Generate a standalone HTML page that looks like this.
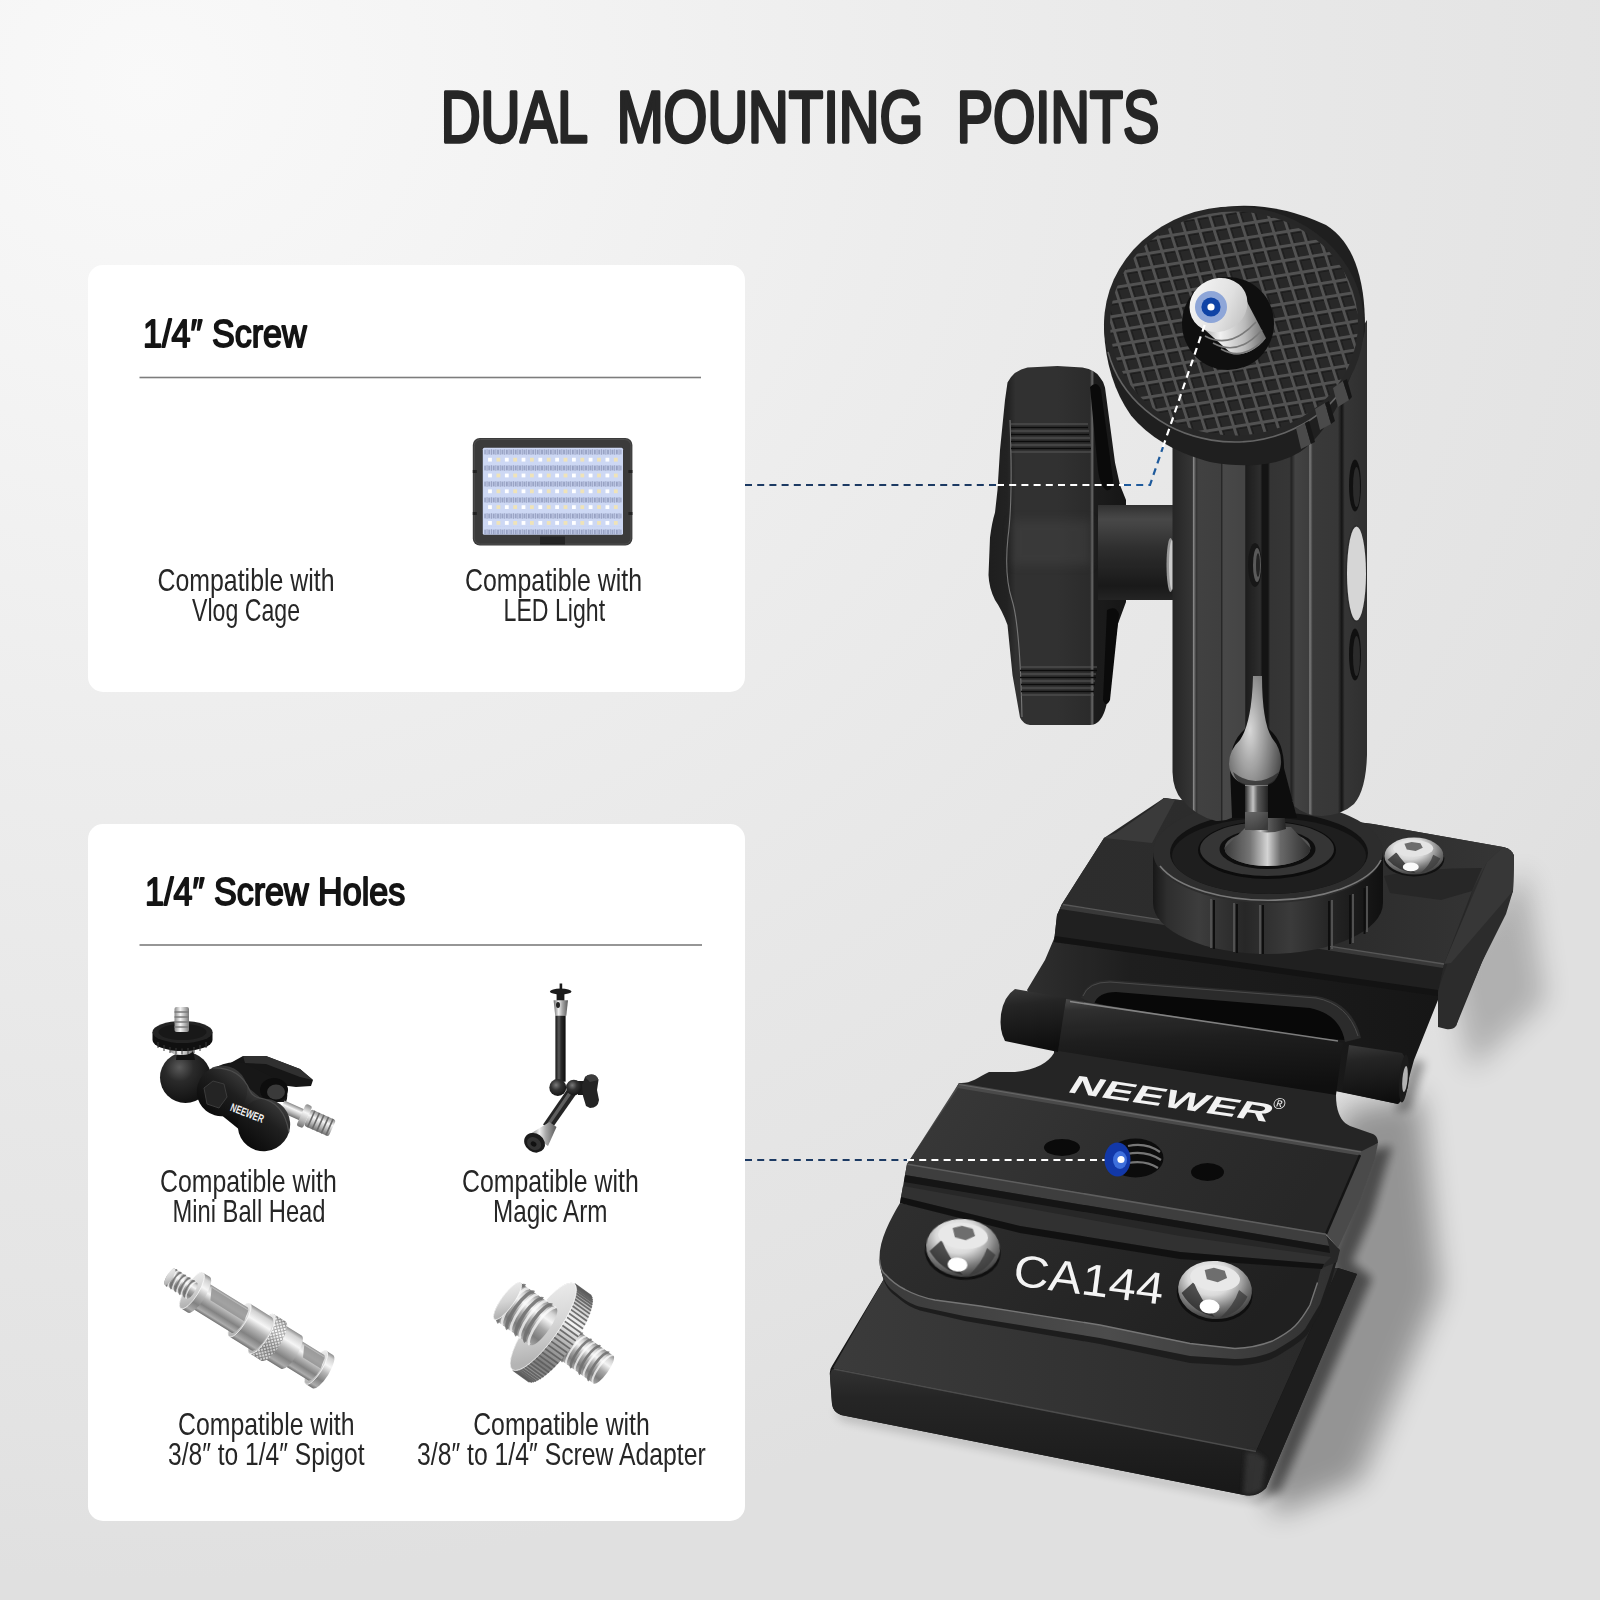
<!DOCTYPE html>
<html lang="en"><head><meta charset="utf-8"><title>Dual Mounting Points</title>
<style>
html,body{margin:0;padding:0;background:#e9e9e9;}
body{width:1600px;height:1600px;overflow:hidden;position:relative;font-family:"Liberation Sans",sans-serif;}
svg{position:absolute;left:0;top:0;display:block}
text{font-family:"Liberation Sans",sans-serif}
</style></head><body>
<svg width="1600" height="1600" viewBox="0 0 1600 1600">
<!-- bg.svg -->
<defs>
<radialGradient id="bgR" cx="150" cy="80" r="1500" gradientUnits="userSpaceOnUse" gradientTransform="translate(150,80) scale(1.12,1) translate(-150,-80)">
<stop offset="0" stop-color="#f9f9f9"/><stop offset="0.2" stop-color="#f4f4f4"/><stop offset="0.45" stop-color="#ededed"/><stop offset="0.7" stop-color="#e7e7e7"/><stop offset="0.9" stop-color="#e3e3e3"/><stop offset="1" stop-color="#e0e0e0"/>
</radialGradient>
</defs>
<rect width="1600" height="1600" fill="url(#bgR)"/>

<!-- cards.svg -->
<rect x="88" y="265" width="657" height="427" rx="15" fill="#ffffff"/>
<rect x="88" y="824" width="657" height="697" rx="15" fill="#ffffff"/>
<rect x="139.5" y="376.7" width="561.5" height="1.6" fill="#7d7d7d"/>
<rect x="139.5" y="944.2" width="562.5" height="1.6" fill="#7d7d7d"/>

<!-- led.svg -->
<g id="led">
<rect x="472.8" y="438" width="159.6" height="107.6" rx="7" fill="#3b3b3b"/>
<rect x="474.3" y="439.5" width="156.6" height="104.6" rx="6" fill="none" stroke="#4d4d4d" stroke-width="1"/>
<rect x="482.8" y="447.8" width="140.2" height="87.0" rx="1.5" fill="#cdd8f4"/>
<defs><pattern id="ledTick" width="4.4" height="8" patternUnits="userSpaceOnUse"><rect x="0.3" y="1.6" width="1.1" height="4.8" fill="#7a84a8"/><rect x="2.4" y="1.2" width="1.3" height="5.6" fill="#9aa3c4"/></pattern></defs>
<rect x="484.3" y="447.80" width="137.2" height="7.91" fill="url(#ledTick)"/>
<rect x="488.1" y="457.76" width="3.8" height="3.8" fill="#ffffff"/>
<rect x="496.5" y="457.76" width="3.8" height="3.8" fill="#efe3b8"/>
<rect x="504.9" y="457.76" width="3.8" height="3.8" fill="#ffffff"/>
<rect x="513.3" y="457.76" width="3.8" height="3.8" fill="#efe3b8"/>
<rect x="521.6" y="457.76" width="3.8" height="3.8" fill="#ffffff"/>
<rect x="530.0" y="457.76" width="3.8" height="3.8" fill="#efe3b8"/>
<rect x="538.4" y="457.76" width="3.8" height="3.8" fill="#ffffff"/>
<rect x="546.8" y="457.76" width="3.8" height="3.8" fill="#efe3b8"/>
<rect x="555.2" y="457.76" width="3.8" height="3.8" fill="#ffffff"/>
<rect x="563.6" y="457.76" width="3.8" height="3.8" fill="#efe3b8"/>
<rect x="572.0" y="457.76" width="3.8" height="3.8" fill="#ffffff"/>
<rect x="580.4" y="457.76" width="3.8" height="3.8" fill="#efe3b8"/>
<rect x="588.7" y="457.76" width="3.8" height="3.8" fill="#ffffff"/>
<rect x="597.1" y="457.76" width="3.8" height="3.8" fill="#efe3b8"/>
<rect x="605.5" y="457.76" width="3.8" height="3.8" fill="#ffffff"/>
<rect x="613.9" y="457.76" width="3.8" height="3.8" fill="#efe3b8"/>
<rect x="484.3" y="463.62" width="137.2" height="7.91" fill="url(#ledTick)"/>
<rect x="488.1" y="473.58" width="3.8" height="3.8" fill="#ffffff"/>
<rect x="496.5" y="473.58" width="3.8" height="3.8" fill="#efe3b8"/>
<rect x="504.9" y="473.58" width="3.8" height="3.8" fill="#ffffff"/>
<rect x="513.3" y="473.58" width="3.8" height="3.8" fill="#efe3b8"/>
<rect x="521.6" y="473.58" width="3.8" height="3.8" fill="#ffffff"/>
<rect x="530.0" y="473.58" width="3.8" height="3.8" fill="#efe3b8"/>
<rect x="538.4" y="473.58" width="3.8" height="3.8" fill="#ffffff"/>
<rect x="546.8" y="473.58" width="3.8" height="3.8" fill="#efe3b8"/>
<rect x="555.2" y="473.58" width="3.8" height="3.8" fill="#ffffff"/>
<rect x="563.6" y="473.58" width="3.8" height="3.8" fill="#efe3b8"/>
<rect x="572.0" y="473.58" width="3.8" height="3.8" fill="#ffffff"/>
<rect x="580.4" y="473.58" width="3.8" height="3.8" fill="#efe3b8"/>
<rect x="588.7" y="473.58" width="3.8" height="3.8" fill="#ffffff"/>
<rect x="597.1" y="473.58" width="3.8" height="3.8" fill="#efe3b8"/>
<rect x="605.5" y="473.58" width="3.8" height="3.8" fill="#ffffff"/>
<rect x="613.9" y="473.58" width="3.8" height="3.8" fill="#efe3b8"/>
<rect x="484.3" y="479.44" width="137.2" height="7.91" fill="url(#ledTick)"/>
<rect x="488.1" y="489.40" width="3.8" height="3.8" fill="#ffffff"/>
<rect x="496.5" y="489.40" width="3.8" height="3.8" fill="#efe3b8"/>
<rect x="504.9" y="489.40" width="3.8" height="3.8" fill="#ffffff"/>
<rect x="513.3" y="489.40" width="3.8" height="3.8" fill="#efe3b8"/>
<rect x="521.6" y="489.40" width="3.8" height="3.8" fill="#ffffff"/>
<rect x="530.0" y="489.40" width="3.8" height="3.8" fill="#efe3b8"/>
<rect x="538.4" y="489.40" width="3.8" height="3.8" fill="#ffffff"/>
<rect x="546.8" y="489.40" width="3.8" height="3.8" fill="#efe3b8"/>
<rect x="555.2" y="489.40" width="3.8" height="3.8" fill="#ffffff"/>
<rect x="563.6" y="489.40" width="3.8" height="3.8" fill="#efe3b8"/>
<rect x="572.0" y="489.40" width="3.8" height="3.8" fill="#ffffff"/>
<rect x="580.4" y="489.40" width="3.8" height="3.8" fill="#efe3b8"/>
<rect x="588.7" y="489.40" width="3.8" height="3.8" fill="#ffffff"/>
<rect x="597.1" y="489.40" width="3.8" height="3.8" fill="#efe3b8"/>
<rect x="605.5" y="489.40" width="3.8" height="3.8" fill="#ffffff"/>
<rect x="613.9" y="489.40" width="3.8" height="3.8" fill="#efe3b8"/>
<rect x="484.3" y="495.25" width="137.2" height="7.91" fill="url(#ledTick)"/>
<rect x="488.1" y="505.22" width="3.8" height="3.8" fill="#ffffff"/>
<rect x="496.5" y="505.22" width="3.8" height="3.8" fill="#efe3b8"/>
<rect x="504.9" y="505.22" width="3.8" height="3.8" fill="#ffffff"/>
<rect x="513.3" y="505.22" width="3.8" height="3.8" fill="#efe3b8"/>
<rect x="521.6" y="505.22" width="3.8" height="3.8" fill="#ffffff"/>
<rect x="530.0" y="505.22" width="3.8" height="3.8" fill="#efe3b8"/>
<rect x="538.4" y="505.22" width="3.8" height="3.8" fill="#ffffff"/>
<rect x="546.8" y="505.22" width="3.8" height="3.8" fill="#efe3b8"/>
<rect x="555.2" y="505.22" width="3.8" height="3.8" fill="#ffffff"/>
<rect x="563.6" y="505.22" width="3.8" height="3.8" fill="#efe3b8"/>
<rect x="572.0" y="505.22" width="3.8" height="3.8" fill="#ffffff"/>
<rect x="580.4" y="505.22" width="3.8" height="3.8" fill="#efe3b8"/>
<rect x="588.7" y="505.22" width="3.8" height="3.8" fill="#ffffff"/>
<rect x="597.1" y="505.22" width="3.8" height="3.8" fill="#efe3b8"/>
<rect x="605.5" y="505.22" width="3.8" height="3.8" fill="#ffffff"/>
<rect x="613.9" y="505.22" width="3.8" height="3.8" fill="#efe3b8"/>
<rect x="484.3" y="511.07" width="137.2" height="7.91" fill="url(#ledTick)"/>
<rect x="488.1" y="521.04" width="3.8" height="3.8" fill="#ffffff"/>
<rect x="496.5" y="521.04" width="3.8" height="3.8" fill="#efe3b8"/>
<rect x="504.9" y="521.04" width="3.8" height="3.8" fill="#ffffff"/>
<rect x="513.3" y="521.04" width="3.8" height="3.8" fill="#efe3b8"/>
<rect x="521.6" y="521.04" width="3.8" height="3.8" fill="#ffffff"/>
<rect x="530.0" y="521.04" width="3.8" height="3.8" fill="#efe3b8"/>
<rect x="538.4" y="521.04" width="3.8" height="3.8" fill="#ffffff"/>
<rect x="546.8" y="521.04" width="3.8" height="3.8" fill="#efe3b8"/>
<rect x="555.2" y="521.04" width="3.8" height="3.8" fill="#ffffff"/>
<rect x="563.6" y="521.04" width="3.8" height="3.8" fill="#efe3b8"/>
<rect x="572.0" y="521.04" width="3.8" height="3.8" fill="#ffffff"/>
<rect x="580.4" y="521.04" width="3.8" height="3.8" fill="#efe3b8"/>
<rect x="588.7" y="521.04" width="3.8" height="3.8" fill="#ffffff"/>
<rect x="597.1" y="521.04" width="3.8" height="3.8" fill="#efe3b8"/>
<rect x="605.5" y="521.04" width="3.8" height="3.8" fill="#ffffff"/>
<rect x="613.9" y="521.04" width="3.8" height="3.8" fill="#efe3b8"/>
<rect x="484.3" y="526.89" width="137.2" height="7.91" fill="url(#ledTick)"/>
<rect x="540" y="536.5" width="25" height="8" fill="#242424"/>
<rect x="472.8" y="470" width="4" height="3" fill="#222"/><rect x="628.4" y="470" width="4" height="3" fill="#222"/><rect x="472.8" y="512" width="4" height="3" fill="#222"/><rect x="628.4" y="512" width="4" height="3" fill="#222"/>
</g>
<!-- ballhead.svg -->
<defs>
<radialGradient id="bhBall" cx="0.38" cy="0.3" r="0.8"><stop offset="0" stop-color="#5a5a5a"/><stop offset="0.35" stop-color="#2a2a2a"/><stop offset="1" stop-color="#0c0c0c"/></radialGradient>
<linearGradient id="bhBody" x1="0" y1="0" x2="0" y2="1"><stop offset="0" stop-color="#3a3a3a"/><stop offset="0.4" stop-color="#1f1f1f"/><stop offset="1" stop-color="#0b0b0b"/></linearGradient>
<linearGradient id="bhSilver" x1="0" y1="0" x2="1" y2="0"><stop offset="0" stop-color="#8a8a8a"/><stop offset="0.4" stop-color="#f4f4f4"/><stop offset="0.7" stop-color="#b8b8b8"/><stop offset="1" stop-color="#7a7a7a"/></linearGradient>
<linearGradient id="bhSilverV" x1="0" y1="0" x2="0" y2="1"><stop offset="0" stop-color="#8a8a8a"/><stop offset="0.35" stop-color="#f6f6f6"/><stop offset="0.7" stop-color="#b4b4b4"/><stop offset="1" stop-color="#707070"/></linearGradient>
</defs>
<g id="ballhead">
<!-- wing nut -->
<path d="M225 1066 L243 1056 L266 1056 L300 1069 L313 1080 L311 1086 L296 1087 L272 1084 L250 1086 L231 1078Z" fill="#161616"/>
<path d="M243 1056 L266 1056 L300 1069 L313 1080 L300 1077 L266 1064 L245 1063Z" fill="#303030"/>
<!-- upper clamp half -->
<path d="M212 1070 Q225 1060 244 1063 L282 1082 Q290 1092 286 1102 L258 1102 L235 1088 L206 1088Z" fill="#171717"/>
<!-- clamp loop -->
<ellipse cx="274" cy="1090" rx="14" ry="12" fill="#0d0d0d"/><ellipse cx="276" cy="1092" rx="9" ry="7.5" fill="#3a3a3a"/>
<!-- bottom stud -->
<g transform="translate(282,1106) rotate(24)">
<rect x="0" y="-6" width="24" height="12" fill="url(#bhSilverV)"/>
<rect x="21" y="-12" width="7" height="24" rx="2.5" fill="url(#bhSilverV)"/>
<rect x="28" y="-9" width="27" height="18" rx="2.5" fill="url(#bhSilverV)"/>
<path d="M32 -9 V9 M37 -9 V9 M42 -9 V9 M47 -9 V9 M52 -9 V9" stroke="#6a6a6a" stroke-width="1.6"/>
</g>
<!-- ball -->
<circle cx="185.5" cy="1077.5" r="25.5" fill="url(#bhBall)"/>
<!-- clamp body (peanut) -->
<g transform="translate(243,1108) rotate(39)">
<rect x="-30" y="-19" width="60" height="38" fill="url(#bhBody)"/>
<ellipse cx="-27" cy="0" rx="25" ry="25.5" fill="url(#bhBody)"/>
<ellipse cx="27" cy="0" rx="26" ry="26.5" fill="url(#bhBody)"/>
<path d="M-49 -12 Q-28 -30 -6 -18 Q0 -15 6 -18 Q28 -31 51 -10" stroke="#4c4c4c" stroke-width="1.2" fill="none"/>
</g>
<!-- hex knob -->
<path d="M204 1088 L213 1081 L224 1084 L227 1097 L219 1108 L207 1104Z" fill="#242424" stroke="#3c3c3c" stroke-width="1"/>
<!-- neck + washer -->
<path d="M178 1045 L192 1045 L195 1060 L176 1060Z" fill="#111"/>
<ellipse cx="181.5" cy="1050.5" rx="11.5" ry="4.5" fill="url(#bhSilver)"/>
<!-- disc -->
<path d="M152.5 1032 L152.5 1040 A30 11 0 0 0 212.5 1040 L212.5 1032Z" fill="#101010"/>
<ellipse cx="182.5" cy="1032" rx="30" ry="11" fill="#232323"/>
<ellipse cx="182.5" cy="1032" rx="24" ry="8" fill="#181818"/>
<g stroke="#3a3a3a" stroke-width="1"><path d="M158 1042 V1048 M164 1045 V1051 M170 1047 V1053 M176 1048 V1054 M182 1048.5 V1054.5 M188 1048 V1054 M194 1047 V1053 M200 1045 V1051 M206 1042 V1048"/></g>
<!-- top screw -->
<rect x="174.5" y="1007" width="14.5" height="25" rx="2" fill="url(#bhSilver)"/>
<path d="M174.5 1012 H189 M174.5 1017 H189 M174.5 1022 H189 M174.5 1027 H189" stroke="#7a7a7a" stroke-width="1.5"/>
<text transform="translate(229.5,1110.5) rotate(21)" font-size="11.5" font-weight="700" fill="#f0f0f0" textLength="35" lengthAdjust="spacingAndGlyphs">NEEWER</text>
</g>

<!-- magicarm.svg -->
<defs>
<linearGradient id="maRod" x1="0" y1="0" x2="1" y2="0"><stop offset="0" stop-color="#151515"/><stop offset="0.35" stop-color="#5a5a5a"/><stop offset="0.55" stop-color="#2a2a2a"/><stop offset="1" stop-color="#0c0c0c"/></linearGradient>
<linearGradient id="maSilver" x1="0" y1="0" x2="1" y2="0"><stop offset="0" stop-color="#6a6a6a"/><stop offset="0.35" stop-color="#f0f0f0"/><stop offset="0.6" stop-color="#a8a8a8"/><stop offset="1" stop-color="#5a5a5a"/></linearGradient>
<radialGradient id="maBall" cx="0.4" cy="0.35" r="0.75"><stop offset="0" stop-color="#7a7a7a"/><stop offset="0.4" stop-color="#333"/><stop offset="1" stop-color="#0c0c0c"/></radialGradient>
</defs>
<g id="magicarm">
<rect x="559.6" y="983.5" width="2.6" height="7" fill="#1a1a1a"/>
<ellipse cx="560.7" cy="991.5" rx="10.8" ry="3" fill="#1c1c1c"/>
<rect x="556.6" y="993" width="7.8" height="8.5" fill="#1a1a1a"/>
<path d="M553.6 1000.3 L568 1000.3 L566.3 1015.7 L555.2 1015.7Z" fill="url(#maSilver)"/>
<ellipse cx="558" cy="1005" rx="2" ry="3" fill="#222"/>
<rect x="555.4" y="1015.7" width="10.2" height="66" fill="url(#maRod)"/>
<!-- lower rod -->
<g transform="translate(571.5,1092) rotate(125)">
<rect x="0" y="-4.8" width="46" height="9.6" fill="url(#maRodH)"/>
</g>
<path d="M567.5 1089 L575.8 1094.8 L551 1130 L543 1124.5Z" fill="#242424"/>
<path d="M569.6 1090.4 L572.4 1092.4 L548 1127.8 L545.4 1126Z" fill="#5e5e5e"/>
<path d="M549.5 1122 L556.5 1127 L548 1146 L530 1134Z" fill="url(#maSilver)"/>
<ellipse cx="534.6" cy="1142.8" rx="11" ry="9.2" transform="rotate(35 534.6 1142.8)" fill="#1a1a1a"/>
<ellipse cx="534" cy="1143.6" rx="7.5" ry="6" transform="rotate(35 534 1143.6)" fill="#333"/>
<ellipse cx="533.6" cy="1144" rx="3" ry="2.4" transform="rotate(35 533.6 1144)" fill="#111"/>
<!-- knob -->
<rect x="578" y="1081" width="8" height="14" fill="#1c1c1c"/>
<path d="M588 1075 Q596 1073 598.5 1080 L597 1090 L599 1100 Q598 1108 590 1108 L586 1106 L583 1096 L582 1085 L585 1077Z" fill="#242424"/>
<path d="M588 1075 Q596 1073 598.5 1080 L590 1082 L585 1077Z" fill="#3c3c3c"/>
<!-- balls -->
<circle cx="573.8" cy="1087.6" r="7.8" fill="url(#maBall)"/>
<circle cx="557.8" cy="1087.6" r="8.5" fill="url(#maBall)"/>
</g>

<!-- spigot.svg -->
<defs>
<linearGradient id="silverV" x1="0" y1="0" x2="0" y2="1"><stop offset="0" stop-color="#8e8e8e"/><stop offset="0.1" stop-color="#d2d2d2"/><stop offset="0.3" stop-color="#f6f6f6"/><stop offset="0.5" stop-color="#b4b4b4"/><stop offset="0.72" stop-color="#828282"/><stop offset="0.9" stop-color="#acacac"/><stop offset="1" stop-color="#707070"/></linearGradient>
<linearGradient id="silverV2" x1="0" y1="0" x2="0" y2="1"><stop offset="0" stop-color="#8c8c8c"/><stop offset="0.15" stop-color="#d4d4d4"/><stop offset="0.32" stop-color="#f4f4f4"/><stop offset="0.55" stop-color="#a8a8a8"/><stop offset="0.8" stop-color="#7c7c7c"/><stop offset="1" stop-color="#a8a8a8"/></linearGradient>
<linearGradient id="silverFace" x1="0" y1="0" x2="0.3" y2="1"><stop offset="0" stop-color="#efefef"/><stop offset="0.6" stop-color="#d4d4d4"/><stop offset="1" stop-color="#b4b4b4"/></linearGradient>
<pattern id="knurlS" width="3" height="3" patternUnits="userSpaceOnUse" patternTransform="rotate(45)"><rect width="3" height="3" fill="#fff"/><path d="M0 0.5H3M0.5 0V3" stroke="#777" stroke-width="1"/></pattern>
</defs><g id="spigot" transform="translate(169.8,1276.8) rotate(31.8)">
<path d="M172 -19.5 L180 -19.5 A6.24 19.5 0 0 1 180 19.5 L172 19.5 A6.24 19.5 0 0 1 172 -19.5Z" fill="url(#silverV)"/>
<ellipse cx="172" cy="0" rx="6.24" ry="19.5" fill="url(#silverFace)"/>
<ellipse cx="172" cy="0" rx="6.24" ry="19.5" fill="none" stroke="#ffffff" stroke-width="0.8" opacity="0.8"/>
<path d="M143 -15 L172 -15 A4.80 15 0 0 1 172 15 L143 15 A4.80 15 0 0 1 143 -15Z" fill="url(#silverV)"/>
<path d="M150.32 -12.75 L174.40 -12.75 L176.56 -1.50 L155.80 -1.50Z" fill="#8d8d8d" opacity="0.8"/>
<ellipse cx="143" cy="0" rx="4.80" ry="15" fill="url(#silverFace)"/>
<path d="M122 -19.5 L143 -19.5 A6.24 19.5 0 0 1 143 19.5 L122 19.5 A6.24 19.5 0 0 1 122 -19.5Z" fill="url(#silverV)"/>
<ellipse cx="122" cy="0" rx="6.24" ry="19.5" fill="url(#silverFace)"/>
<path d="M108 -23 L122 -23 A7.36 23 0 0 1 122 23 L108 23 A7.36 23 0 0 1 108 -23Z" fill="url(#silverV)"/>
<path d="M108 -23 L122 -23 A7.36 23 0 0 1 122 23 L108 23 A7.36 23 0 0 1 108 -23Z" fill="url(#knurlS)" opacity="0.55"/>
<ellipse cx="108" cy="0" rx="7.36" ry="23" fill="url(#silverFace)"/>
<ellipse cx="108" cy="0" rx="7.36" ry="23" fill="none" stroke="#ffffff" stroke-width="0.8" opacity="0.8"/>
<path d="M82 -19.5 L108 -19.5 A6.24 19.5 0 0 1 108 19.5 L82 19.5 A6.24 19.5 0 0 1 82 -19.5Z" fill="url(#silverV)"/>
<ellipse cx="82" cy="0" rx="6.24" ry="19.5" fill="url(#silverFace)"/>
<ellipse cx="82" cy="0" rx="6.24" ry="19.5" fill="none" stroke="#ffffff" stroke-width="0.8" opacity="0.8"/>
<path d="M34 -15 L82 -15 A4.80 15 0 0 1 82 15 L34 15 A4.80 15 0 0 1 34 -15Z" fill="url(#silverV)"/>
<path d="M41.32 -12.75 L84.40 -12.75 L86.56 -1.50 L46.80 -1.50Z" fill="#8d8d8d" opacity="0.8"/>
<ellipse cx="34" cy="0" rx="4.80" ry="15" fill="url(#silverFace)"/>
<path d="M26 -21 L34 -21 A6.72 21 0 0 1 34 21 L26 21 A6.72 21 0 0 1 26 -21Z" fill="url(#silverV)"/>
<ellipse cx="26" cy="0" rx="6.72" ry="21" fill="url(#silverFace)"/>
<ellipse cx="26" cy="0" rx="6.72" ry="21" fill="none" stroke="#ffffff" stroke-width="0.8" opacity="0.8"/>
<path d="M0 -9.5 L26 -9.5 A3.04 9.5 0 0 1 26 9.5 L0 9.5 A3.04 9.5 0 0 1 0 -9.5Z" fill="url(#silverV2)"/>
<path d="M23.40 -9.5 A3.04 9.5 0 0 0 23.40 9.5" fill="none" stroke="#6f6f6f" stroke-width="1.6" opacity="0.85"/>
<path d="M25.74 -9.5 A3.04 9.5 0 0 0 25.74 9.5" fill="none" stroke="#ffffff" stroke-width="1.2800000000000002" opacity="0.7"/>
<path d="M18.20 -9.5 A3.04 9.5 0 0 0 18.20 9.5" fill="none" stroke="#6f6f6f" stroke-width="1.6" opacity="0.85"/>
<path d="M20.54 -9.5 A3.04 9.5 0 0 0 20.54 9.5" fill="none" stroke="#ffffff" stroke-width="1.2800000000000002" opacity="0.7"/>
<path d="M13.00 -9.5 A3.04 9.5 0 0 0 13.00 9.5" fill="none" stroke="#6f6f6f" stroke-width="1.6" opacity="0.85"/>
<path d="M15.34 -9.5 A3.04 9.5 0 0 0 15.34 9.5" fill="none" stroke="#ffffff" stroke-width="1.2800000000000002" opacity="0.7"/>
<path d="M7.80 -9.5 A3.04 9.5 0 0 0 7.80 9.5" fill="none" stroke="#6f6f6f" stroke-width="1.6" opacity="0.85"/>
<path d="M10.14 -9.5 A3.04 9.5 0 0 0 10.14 9.5" fill="none" stroke="#ffffff" stroke-width="1.2800000000000002" opacity="0.7"/>
<path d="M2.60 -9.5 A3.04 9.5 0 0 0 2.60 9.5" fill="none" stroke="#6f6f6f" stroke-width="1.6" opacity="0.85"/>
<path d="M4.94 -9.5 A3.04 9.5 0 0 0 4.94 9.5" fill="none" stroke="#ffffff" stroke-width="1.2800000000000002" opacity="0.7"/>
<ellipse cx="0" cy="0" rx="3.04" ry="9.5" fill="url(#silverFace)"/>
</g>
<!-- adapter.svg -->
<g id="adapter" transform="translate(507.5,1301) rotate(35.6)">
<path d="M64 -17 L118 -17 A4.76 17 0 0 1 118 17 L64 17 A4.76 17 0 0 1 64 -17Z" fill="url(#silverV2)"/>
<path d="M112.60 -17 A4.76 17 0 0 0 112.60 17" fill="none" stroke="#6f6f6f" stroke-width="2.6" opacity="0.85"/>
<path d="M117.46 -17 A4.76 17 0 0 0 117.46 17" fill="none" stroke="#ffffff" stroke-width="2.08" opacity="0.7"/>
<path d="M101.80 -17 A4.76 17 0 0 0 101.80 17" fill="none" stroke="#6f6f6f" stroke-width="2.6" opacity="0.85"/>
<path d="M106.66 -17 A4.76 17 0 0 0 106.66 17" fill="none" stroke="#ffffff" stroke-width="2.08" opacity="0.7"/>
<path d="M91.00 -17 A4.76 17 0 0 0 91.00 17" fill="none" stroke="#6f6f6f" stroke-width="2.6" opacity="0.85"/>
<path d="M95.86 -17 A4.76 17 0 0 0 95.86 17" fill="none" stroke="#ffffff" stroke-width="2.08" opacity="0.7"/>
<path d="M80.20 -17 A4.76 17 0 0 0 80.20 17" fill="none" stroke="#6f6f6f" stroke-width="2.6" opacity="0.85"/>
<path d="M85.06 -17 A4.76 17 0 0 0 85.06 17" fill="none" stroke="#ffffff" stroke-width="2.08" opacity="0.7"/>
<path d="M69.40 -17 A4.76 17 0 0 0 69.40 17" fill="none" stroke="#6f6f6f" stroke-width="2.6" opacity="0.85"/>
<path d="M74.26 -17 A4.76 17 0 0 0 74.26 17" fill="none" stroke="#ffffff" stroke-width="2.08" opacity="0.7"/>
<ellipse cx="64" cy="0" rx="4.76" ry="17" fill="url(#silverFace)"/>
<path d="M44 -53 L64 -53 A14.84 53 0 0 1 64 53 L44 53 A14.84 53 0 0 1 44 -53Z" fill="url(#silverV2)"/>
<path d="M44.69 -52.94 L64.69 -52.94" stroke="#5c5c5c" stroke-width="1.8" opacity="0.85"/>
<path d="M46.05 -52.49 L66.05 -52.49" stroke="#5c5c5c" stroke-width="1.8" opacity="0.85"/>
<path d="M47.40 -51.59 L67.40 -51.59" stroke="#5c5c5c" stroke-width="1.8" opacity="0.85"/>
<path d="M48.72 -50.25 L68.72 -50.25" stroke="#5c5c5c" stroke-width="1.8" opacity="0.85"/>
<path d="M49.99 -48.48 L69.99 -48.48" stroke="#5c5c5c" stroke-width="1.8" opacity="0.85"/>
<path d="M51.22 -46.30 L71.22 -46.30" stroke="#5c5c5c" stroke-width="1.8" opacity="0.85"/>
<path d="M52.39 -43.72 L72.39 -43.72" stroke="#5c5c5c" stroke-width="1.8" opacity="0.85"/>
<path d="M53.48 -40.77 L73.48 -40.77" stroke="#5c5c5c" stroke-width="1.8" opacity="0.85"/>
<path d="M54.49 -37.48 L74.49 -37.48" stroke="#5c5c5c" stroke-width="1.8" opacity="0.85"/>
<path d="M55.42 -33.86 L75.42 -33.86" stroke="#5c5c5c" stroke-width="1.8" opacity="0.85"/>
<path d="M56.24 -29.95 L76.24 -29.95" stroke="#5c5c5c" stroke-width="1.8" opacity="0.85"/>
<path d="M56.96 -25.79 L76.96 -25.79" stroke="#5c5c5c" stroke-width="1.8" opacity="0.85"/>
<path d="M57.58 -21.41 L77.58 -21.41" stroke="#5c5c5c" stroke-width="1.8" opacity="0.85"/>
<path d="M58.07 -16.84 L78.07 -16.84" stroke="#5c5c5c" stroke-width="1.8" opacity="0.85"/>
<path d="M58.45 -12.13 L78.45 -12.13" stroke="#5c5c5c" stroke-width="1.8" opacity="0.85"/>
<path d="M58.70 -7.32 L78.70 -7.32" stroke="#5c5c5c" stroke-width="1.8" opacity="0.85"/>
<path d="M58.82 -2.45 L78.82 -2.45" stroke="#5c5c5c" stroke-width="1.8" opacity="0.85"/>
<path d="M58.82 2.45 L78.82 2.45" stroke="#5c5c5c" stroke-width="1.8" opacity="0.85"/>
<path d="M58.70 7.32 L78.70 7.32" stroke="#5c5c5c" stroke-width="1.8" opacity="0.85"/>
<path d="M58.45 12.13 L78.45 12.13" stroke="#5c5c5c" stroke-width="1.8" opacity="0.85"/>
<path d="M58.07 16.84 L78.07 16.84" stroke="#5c5c5c" stroke-width="1.8" opacity="0.85"/>
<path d="M57.58 21.41 L77.58 21.41" stroke="#5c5c5c" stroke-width="1.8" opacity="0.85"/>
<path d="M56.96 25.79 L76.96 25.79" stroke="#5c5c5c" stroke-width="1.8" opacity="0.85"/>
<path d="M56.24 29.95 L76.24 29.95" stroke="#5c5c5c" stroke-width="1.8" opacity="0.85"/>
<path d="M55.42 33.86 L75.42 33.86" stroke="#5c5c5c" stroke-width="1.8" opacity="0.85"/>
<path d="M54.49 37.48 L74.49 37.48" stroke="#5c5c5c" stroke-width="1.8" opacity="0.85"/>
<path d="M53.48 40.77 L73.48 40.77" stroke="#5c5c5c" stroke-width="1.8" opacity="0.85"/>
<path d="M52.39 43.72 L72.39 43.72" stroke="#5c5c5c" stroke-width="1.8" opacity="0.85"/>
<path d="M51.22 46.30 L71.22 46.30" stroke="#5c5c5c" stroke-width="1.8" opacity="0.85"/>
<path d="M49.99 48.48 L69.99 48.48" stroke="#5c5c5c" stroke-width="1.8" opacity="0.85"/>
<path d="M48.72 50.25 L68.72 50.25" stroke="#5c5c5c" stroke-width="1.8" opacity="0.85"/>
<path d="M47.40 51.59 L67.40 51.59" stroke="#5c5c5c" stroke-width="1.8" opacity="0.85"/>
<path d="M46.05 52.49 L66.05 52.49" stroke="#5c5c5c" stroke-width="1.8" opacity="0.85"/>
<path d="M44.69 52.94 L64.69 52.94" stroke="#5c5c5c" stroke-width="1.8" opacity="0.85"/>
<ellipse cx="44" cy="0" rx="14.84" ry="53" fill="url(#silverFace)"/>
<ellipse cx="44" cy="0" rx="14.84" ry="53" fill="none" stroke="#ffffff" stroke-width="0.8" opacity="0.8"/>
<path d="M0 -22.5 L44 -22.5 A6.30 22.5 0 0 1 44 22.5 L0 22.5 A6.30 22.5 0 0 1 0 -22.5Z" fill="url(#silverV2)"/>
<path d="M38.50 -22.5 A6.30 22.5 0 0 0 38.50 22.5" fill="none" stroke="#6f6f6f" stroke-width="3.4" opacity="0.85"/>
<path d="M43.45 -22.5 A6.30 22.5 0 0 0 43.45 22.5" fill="none" stroke="#ffffff" stroke-width="2.72" opacity="0.7"/>
<path d="M27.50 -22.5 A6.30 22.5 0 0 0 27.50 22.5" fill="none" stroke="#6f6f6f" stroke-width="3.4" opacity="0.85"/>
<path d="M32.45 -22.5 A6.30 22.5 0 0 0 32.45 22.5" fill="none" stroke="#ffffff" stroke-width="2.72" opacity="0.7"/>
<path d="M16.50 -22.5 A6.30 22.5 0 0 0 16.50 22.5" fill="none" stroke="#6f6f6f" stroke-width="3.4" opacity="0.85"/>
<path d="M21.45 -22.5 A6.30 22.5 0 0 0 21.45 22.5" fill="none" stroke="#ffffff" stroke-width="2.72" opacity="0.7"/>
<path d="M5.50 -22.5 A6.30 22.5 0 0 0 5.50 22.5" fill="none" stroke="#6f6f6f" stroke-width="3.4" opacity="0.85"/>
<path d="M10.45 -22.5 A6.30 22.5 0 0 0 10.45 22.5" fill="none" stroke="#ffffff" stroke-width="2.72" opacity="0.7"/>
<ellipse cx="0" cy="0" rx="6.30" ry="22.5" fill="url(#silverFace)"/>
<ellipse cx="0" cy="0" rx="6.30" ry="22.5" fill="none" stroke="#ffffff" stroke-width="0.8" opacity="0.8"/>
</g>
<!-- product.svg -->
<defs>
<filter id="lift" x="0" y="0" width="100%" height="100%" filterUnits="userSpaceOnUse" color-interpolation-filters="sRGB"><feComponentTransfer><feFuncR type="linear" slope="0.97" intercept="0.012"/><feFuncG type="linear" slope="0.97" intercept="0.012"/><feFuncB type="linear" slope="0.97" intercept="0.012"/></feComponentTransfer></filter>
<filter id="blur12" x="-30%" y="-30%" width="160%" height="160%"><feGaussianBlur stdDeviation="14"/></filter>
<filter id="blur5" x="-30%" y="-30%" width="160%" height="160%"><feGaussianBlur stdDeviation="5"/></filter>
<filter id="blur2" x="-30%" y="-30%" width="160%" height="160%"><feGaussianBlur stdDeviation="2"/></filter>
<filter id="blur1" x="-30%" y="-30%" width="160%" height="160%"><feGaussianBlur stdDeviation="1"/></filter>
<linearGradient id="padTop" x1="0" y1="0" x2="1" y2="0"><stop offset="0" stop-color="#3a3a3a"/><stop offset="1" stop-color="#282828"/></linearGradient>
<linearGradient id="padFront" x1="0" y1="0" x2="0" y2="1"><stop offset="0" stop-color="#303030"/><stop offset="0.25" stop-color="#232323"/><stop offset="1" stop-color="#161616"/></linearGradient>
<linearGradient id="deckLow" x1="0" y1="0" x2="1" y2="0.3"><stop offset="0" stop-color="#2e2e2e"/><stop offset="0.5" stop-color="#262626"/><stop offset="1" stop-color="#1e1e1e"/></linearGradient>
<linearGradient id="deckCh" x1="0" y1="0" x2="1" y2="0"><stop offset="0" stop-color="#3a3a3a"/><stop offset="0.5" stop-color="#4c4c4c"/><stop offset="1" stop-color="#303030"/></linearGradient>
<linearGradient id="deckUp" x1="0" y1="0" x2="1" y2="0.2"><stop offset="0" stop-color="#383838"/><stop offset="0.6" stop-color="#2c2c2c"/><stop offset="1" stop-color="#262626"/></linearGradient>
<linearGradient id="wallG" x1="0" y1="0" x2="0" y2="1"><stop offset="0" stop-color="#3c3c3c"/><stop offset="0.2" stop-color="#353535"/><stop offset="0.26" stop-color="#121212"/><stop offset="0.36" stop-color="#1a1a1a"/><stop offset="0.42" stop-color="#2e2e2e"/><stop offset="0.85" stop-color="#2a2a2a"/><stop offset="0.93" stop-color="#0f0f0f"/><stop offset="1" stop-color="#161616"/></linearGradient>
<linearGradient id="rodG" x1="0" y1="0" x2="0.12" y2="1"><stop offset="0" stop-color="#4a4a4a"/><stop offset="0.12" stop-color="#2e2e2e"/><stop offset="0.45" stop-color="#1c1c1c"/><stop offset="1" stop-color="#0d0d0d"/></linearGradient>
<linearGradient id="capG" x1="0" y1="0" x2="0.12" y2="1"><stop offset="0" stop-color="#3a3a3a"/><stop offset="0.3" stop-color="#222"/><stop offset="1" stop-color="#0c0c0c"/></linearGradient>
<linearGradient id="blockTop" x1="0" y1="0" x2="1" y2="0"><stop offset="0" stop-color="#2c2c2c"/><stop offset="0.6" stop-color="#2a2a2a"/><stop offset="1" stop-color="#343434"/></linearGradient>
<linearGradient id="slantG" x1="0" y1="0" x2="1" y2="0"><stop offset="0" stop-color="#2e2e2e"/><stop offset="0.25" stop-color="#1c1c1c"/><stop offset="1" stop-color="#141414"/></linearGradient>
<linearGradient id="colG" x1="1173" y1="0" x2="1367" y2="0" gradientUnits="userSpaceOnUse">
<stop offset="0" stop-color="#252525"/><stop offset="0.1" stop-color="#343434"/><stop offset="0.105" stop-color="#8a8a8a"/><stop offset="0.12" stop-color="#343434"/><stop offset="0.13" stop-color="#404040"/><stop offset="0.245" stop-color="#3e3e3e"/><stop offset="0.25" stop-color="#262626"/><stop offset="0.26" stop-color="#484848"/><stop offset="0.37" stop-color="#444444"/><stop offset="0.375" stop-color="#1a1a1a"/><stop offset="0.45" stop-color="#2d2d2d"/><stop offset="0.46" stop-color="#121212"/><stop offset="0.49" stop-color="#121212"/><stop offset="0.5" stop-color="#333333"/><stop offset="0.6" stop-color="#353535"/><stop offset="0.61" stop-color="#222222"/><stop offset="0.63" stop-color="#424242"/><stop offset="0.7" stop-color="#3c3c3c"/><stop offset="0.705" stop-color="#808080"/><stop offset="0.72" stop-color="#383838"/><stop offset="0.85" stop-color="#363636"/><stop offset="0.87" stop-color="#121212"/><stop offset="0.885" stop-color="#343434"/><stop offset="1" stop-color="#2e2e2e"/>
</linearGradient>
<linearGradient id="ringSide" x1="0" y1="0" x2="1" y2="0"><stop offset="0" stop-color="#151515"/><stop offset="0.06" stop-color="#2d2d2d"/><stop offset="0.2" stop-color="#3c3c3c"/><stop offset="0.4" stop-color="#262626"/><stop offset="0.6" stop-color="#3a3a3a"/><stop offset="0.8" stop-color="#202020"/><stop offset="1" stop-color="#0e0e0e"/></linearGradient>
<linearGradient id="knobG" x1="988" y1="0" x2="1126" y2="0" gradientUnits="userSpaceOnUse"><stop offset="0" stop-color="#1c1c1c"/><stop offset="0.14" stop-color="#202020"/><stop offset="0.2" stop-color="#303030"/><stop offset="0.5" stop-color="#303030"/><stop offset="0.74" stop-color="#2a2a2a"/><stop offset="0.755" stop-color="#6a6a6a"/><stop offset="0.77" stop-color="#1a1a1a"/><stop offset="1" stop-color="#141414"/></linearGradient>
<linearGradient id="shaftG" x1="0" y1="0" x2="0" y2="1"><stop offset="0" stop-color="#303030"/><stop offset="0.15" stop-color="#484848"/><stop offset="0.45" stop-color="#2e2e2e"/><stop offset="0.85" stop-color="#171717"/><stop offset="1" stop-color="#222"/></linearGradient>
<linearGradient id="coneG" x1="0" y1="0" x2="1" y2="0"><stop offset="0" stop-color="#3a3a3a"/><stop offset="0.3" stop-color="#777"/><stop offset="0.5" stop-color="#d8d8d8"/><stop offset="0.65" stop-color="#6a6a6a"/><stop offset="1" stop-color="#2c2c2c"/></linearGradient>
<linearGradient id="studG" x1="0" y1="0" x2="1" y2="0"><stop offset="0" stop-color="#2a2a2a"/><stop offset="0.35" stop-color="#c8c8c8"/><stop offset="0.55" stop-color="#5a5a5a"/><stop offset="1" stop-color="#222"/></linearGradient>
<radialGradient id="ballG" cx="0.4" cy="0.35" r="0.7"><stop offset="0" stop-color="#dcdcdc"/><stop offset="0.5" stop-color="#8f8f8f"/><stop offset="1" stop-color="#3a3a3a"/></radialGradient>
<radialGradient id="boltG" cx="0.42" cy="0.3" r="0.75"><stop offset="0" stop-color="#ffffff"/><stop offset="0.4" stop-color="#d9d9d9"/><stop offset="0.7" stop-color="#7a7a7a"/><stop offset="1" stop-color="#2e2e2e"/></radialGradient>
<linearGradient id="screwTop" x1="0" y1="0" x2="1" y2="1"><stop offset="0" stop-color="#ffffff"/><stop offset="0.6" stop-color="#e4e4e4"/><stop offset="1" stop-color="#bdbdbd"/></linearGradient>
<linearGradient id="threadG" x1="0" y1="0" x2="1" y2="0"><stop offset="0" stop-color="#8c8c8c"/><stop offset="0.35" stop-color="#f6f6f6"/><stop offset="0.7" stop-color="#bcbcbc"/><stop offset="1" stop-color="#6a6a6a"/></linearGradient>
<pattern id="knurl" width="14.2" height="14.2" patternUnits="userSpaceOnUse" patternTransform="translate(3 2) rotate(-9) skewX(9)">
<rect width="14.2" height="14.2" fill="#272727"/><path d="M0 1.5H14.2M1.5 0V14.2" stroke="#525252" stroke-width="3"/><path d="M3.2 4H14.2M4 3.2V14.2" stroke="#191919" stroke-width="1.3"/>
</pattern>
<g id="bolt">
<ellipse cx="0" cy="4" rx="38" ry="28" fill="#0f0f0f"/>
<ellipse cx="0" cy="0" rx="37" ry="29" fill="url(#boltG)"/>
<path d="M-33 6 Q-20 24 2 27 Q-14 10 -22 -6Z" fill="#2a2a2a" opacity="0.8"/>
<path d="M33 4 Q26 22 8 27 Q20 14 24 -2Z" fill="#3a3a3a" opacity="0.75"/>
<ellipse cx="-4" cy="17" rx="10" ry="7" fill="#fff"/>
<ellipse cx="-1" cy="-12" rx="25" ry="13" fill="#e8e8e8"/>
<path d="M-12 -19 L-3 -22 L8 -20 L11 -13 L2 -8 L-9 -10Z" fill="#6e6e6e"/>
</g>
</defs>
<g id="product" filter="url(#lift)">
<!-- soft shadows -->
<path d="M1345 1110 L1420 1095 L1440 1290 L1360 1480 L1275 1515 L1250 1420Z" fill="#000" opacity="0.34" filter="url(#blur12)"/>
<path d="M1450 960 L1525 870 L1545 1000 L1470 1070Z" fill="#000" opacity="0.22" filter="url(#blur12)"/>
<path d="M834 1410 L1250 1496 L1270 1490 L1262 1504 L842 1420Z" fill="#000" opacity="0.2" filter="url(#blur5)"/>
<path d="M1370 1150 L1392 1146 L1372 1215 L1352 1262 L1372 1278 L1280 1492 L1262 1496 L1340 1290 L1330 1260Z" fill="#000" opacity="0.5" filter="url(#blur5)"/>
<path d="M1412 1060 L1425 1062 L1410 1110 L1395 1112Z" fill="#000" opacity="0.35" filter="url(#blur5)"/>
<!-- pad -->
<path d="M888 1272 L832 1366 Q829 1370 830 1376 L832 1404 Q833 1412 841 1415 L1244 1495 Q1256 1498 1266 1488 L1357 1274 L1338 1268Z" fill="#151515"/>
<path d="M888 1272 L833 1368 L1256 1451 L1338 1268Z" fill="url(#padTop)"/>
<path d="M833 1369 Q829.500 1372 830 1378 L832 1404 Q833 1412 841 1415 L1244 1495 Q1250 1496 1252 1494 L1256 1452Z" fill="url(#padFront)"/>
<path d="M834 1369 L1256 1451.5" stroke="#4c4c4c" stroke-width="1.6" fill="none"/>
<path d="M1256 1452 L1252 1494 Q1258 1496 1266 1488 L1357 1274 L1338 1268Z" fill="#1b1b1b"/>
<path d="M1246 1452 L1256 1452 L1266 1460 L1262 1490 L1250 1495 L1243 1494Z" fill="#3a3a3a" opacity="0.7" filter="url(#blur2)"/>
<!-- lower deck (CA144) thickness + top -->
<path d="M899 1210 C886 1230 879 1250 881 1270 C884 1286 890 1292 897 1297 C905 1304 912 1308 920 1310.5 L965 1321 L1100 1344 L1190 1363 L1235 1365.5 C1255 1365 1270 1361 1280 1354.5 C1292 1347 1300 1342 1307 1335 L1322 1309.5 L1331 1282.5 L1338 1256 L1330 1250Z" fill="#1b1b1b"/>
<path d="M899 1208 C886 1228 879 1248 880 1266 C883 1282 889 1288 896 1293 C904 1300 911 1304 919 1306.5 L964 1316 L1100 1338 L1190 1356 L1235 1359 C1255 1358.5 1270 1354 1279 1348 C1291 1341 1299 1336 1305 1329 L1320 1304 L1329 1278 L1336 1256 L1330 1250Z" fill="url(#deckCh)"/>
<path d="M900 1203 C890 1220 879 1240 879.5 1259.5 C880 1268 882 1272 885.5 1274.5 C892 1282 898 1286 905 1289.5 C915 1295 925 1298 935 1300 L980 1306 L1100 1325 L1190 1343.5 L1235 1348.5 C1250 1348 1262 1345 1272.5 1341 C1282 1336 1289 1332 1295 1326 C1302 1319 1306 1312 1310 1305 L1317.5 1282.5 L1324 1256 L1180 1250 L1020 1226Z" fill="url(#deckLow)"/>
<path d="M879.5 1259.5 C880 1268 882 1272 885.5 1274.5 C892 1282 898 1286 905 1289.5 C915 1295 925 1298 935 1300 L980 1306 L1100 1325 L1190 1343.5 L1235 1348.5 C1250 1348 1262 1345 1272.5 1341 C1282 1336 1289 1332 1295 1326 C1302 1319 1306 1312 1310 1305 L1317.5 1282.5" stroke="#767676" stroke-width="1.4" fill="none"/>
<!-- wall between decks -->
<path d="M907 1164 L1327 1236 L1340 1250 L1337 1262 L1322 1268 L1180 1259 L1020 1233 L900 1203Z" fill="#262626"/>
<path d="M907 1164 L1326 1234 L1329 1246 L905 1175Z" fill="#3d3d3d"/>
<path d="M905 1175 L1329 1246 L1330 1253 L904 1182Z" fill="#131313"/>
<path d="M903 1186 L1180 1236 L1331 1257 L1324 1264 L1180 1252 L1020 1226 L901 1197Z" fill="#303030"/>
<path d="M901 1197 L1020 1226 L1180 1252 L1324 1264 L1322 1269 L1180 1259 L1020 1233 L900 1203Z" fill="#0f0f0f"/>
<!-- neck plate -->
<path d="M1054 1040 L1054 1053 C1049 1062 1036 1070 1015 1072 L989 1072 C977 1078 970 1084 959 1083 L955 1090 L1360 1156 L1378 1143 C1378 1136 1374 1134 1370 1133 L1350 1126 C1340 1122 1336 1110 1336 1095 L1336 1040Z" fill="#242424"/>
<!-- upper deck top face + lip -->
<path d="M959 1083 L1362 1151 L1378 1143 L1375 1158 L1360 1200 L1338 1248 L1326 1234 L907 1164Z" fill="#4a4a4a"/>
<path d="M958 1088 L1360 1155.5 L1326 1234 L907 1164Z" fill="url(#deckUp)"/>
<path d="M959 1084.5 L1361 1152" stroke="#666" stroke-width="1.2" fill="none"/>
<path d="M1360 1155 L1326 1234" stroke="#121212" stroke-width="2.5" fill="none"/>
<path d="M907.5 1164.3 L1326 1234.2" stroke="#5e5e5e" stroke-width="1.6" fill="none"/>
<!-- holes -->
<ellipse cx="1135.5" cy="1158" rx="28" ry="19.5" fill="#0a0a0a"/>
<path d="M1128 1146 Q1146 1142 1160 1152 M1127 1154 Q1146 1150 1161 1160 M1128 1163 Q1146 1160 1158 1168" stroke="#777" stroke-width="2.2" fill="none"/>
<ellipse cx="1062" cy="1147.5" rx="18" ry="8.5" fill="#080808"/>
<ellipse cx="1207.5" cy="1172" rx="16.5" ry="9" fill="#080808"/>
<!-- slanted lower plate of upper block -->
<path d="M1059 927 L1045 960 L1027 990 L1058 1050 L1340 1092 L1398 1104 L1409 1078 L1414 1060 L1438 1000 L1440 975Z" fill="url(#slantG)"/>
<!-- recess + loop -->
<path d="M1092 1002 Q1096 984 1118 985 L1310 1000 Q1340 1006 1345 1040 L1200 1030Z" fill="#060606"/>
<path d="M1081 998 Q1086 980 1110 980 L1316 996 Q1352 1002 1361 1038 L1345 1042 Q1340 1014 1310 1008 L1116 992 Q1098 992 1094 1004Z" fill="#2a2a2a"/>
<path d="M1083 996 Q1088 982 1110 982 L1316 998 Q1348 1004 1358 1036" stroke="#4a4a4a" stroke-width="1" fill="none"/>
<!-- block base fill -->
<path d="M1062 904 L1104 838 L1164 798 L1373 824 L1503 847 Q1512 849 1514 856 L1513 891 L1482 962 L1456 1026 L1438 1027 L1438 992 L1054 942 L1057 915Z" fill="#262626"/>
<!-- right rail of block -->
<path d="M1503 847 Q1512 849 1514 856 L1513 891 L1506 914 L1482 962 L1461 1011 L1456 1026 Q1453 1030 1446 1029 L1438 1027 L1438 990 L1470 900 L1480 860Z" fill="#2b2b2b"/>
<path d="M1487 862 L1503 847 Q1512 849 1514 856 L1513 891 L1451 963 L1444 964Z" fill="#363636"/>
<!-- upper block front face + top -->
<path d="M1062 904 L1057 915 L1054 942 L1438 992 L1444 964Z" fill="#1e1e1e"/>
<path d="M1062 904 L1060 909 L1443 968 L1444 964Z" fill="#383838"/>
<path d="M1055 936 L1438 990 L1438 996 L1054 942Z" fill="#111"/>
<path d="M1164 798 L1152 808 L1116 833 L1104 838 L1062 904 L1444 964 L1472 891 L1487 862 L1503 847 L1373 824Z" fill="url(#blockTop)"/>
<path d="M1164 798 L1152 808 L1116 833 L1104 838 L1152 843 L1175 800Z" fill="#393939"/>
<path d="M1384 876 Q1420 868 1482 868 L1472 891 L1441 900 L1390 893Z" fill="#262626"/>
<path d="M1063 904.5 L1444 964" stroke="#585858" stroke-width="1.3" fill="none"/>
<!-- hex bolt on block -->
<g transform="translate(1414,856) scale(0.8,0.64)"><use href="#bolt"/></g>
<!-- hinge rod + caps -->
<path d="M1066 999 L1343 1043 L1336 1095 L1058 1051Z" fill="url(#rodG)"/>
<path d="M1070 1001.5 L1338 1041" stroke="#9a9a9a" stroke-width="1.6" fill="none" opacity="0.8"/>
<path d="M1015 989 L1066 998 L1058 1052 L1005 1041 Q999 1030 1001 1014 Q1004 996 1015 989Z" fill="url(#capG)"/>
<path d="M1349 1045 L1402 1053 Q1410 1062 1409 1080 Q1407 1098 1398 1104 L1342 1092Z" fill="url(#capG)"/>
<ellipse cx="1404" cy="1078.5" rx="4.5" ry="24" fill="#1a1a1a" transform="rotate(5 1404 1078)"/>
<ellipse cx="1405" cy="1079" rx="2.6" ry="13" fill="#b5b5b5" transform="rotate(5 1405 1079)"/>
<!-- ring -->
<path d="M1153 852 L1153 903 A115 51 0 0 0 1383 903 L1383 852Z" fill="url(#ringSide)"/>
<g stroke="#565656" stroke-width="2" opacity="0.9"><path d="M1211 899 V948 M1234 903 V952 M1260 905 V954 M1332 900 V949 M1353 894 V943 M1367 886 V932"/></g>
<g stroke="#0c0c0c" stroke-width="2"><path d="M1214 900 V949 M1237 904 V953 M1263 905 V954 M1329 901 V950 M1350 895 V944 M1364.5 888 V934"/></g>
<ellipse cx="1268" cy="852" rx="115" ry="51" fill="#2c2c2c"/>
<path d="M1160 866 A115 51 0 0 0 1381 860" stroke="#8a8a8a" stroke-width="1.6" fill="none" opacity="0.85"/>
<ellipse cx="1269" cy="853" rx="99" ry="41" fill="#101010"/>
<ellipse cx="1269" cy="856" rx="97" ry="38" fill="#1c1c1c"/>
<ellipse cx="1267" cy="850" rx="69" ry="29" fill="#0a0a0a"/>
<ellipse cx="1267" cy="849" rx="67" ry="27" fill="#343434"/>
<ellipse cx="1267.5" cy="849" rx="48" ry="20" fill="#0c0c0c"/>
<ellipse cx="1267.5" cy="848" rx="43" ry="18" fill="#555"/>
<path d="M1224.5 848 L1246 827 L1291 827 L1310.5 848 A43 18 0 0 1 1224.5 848Z" fill="url(#coneG)"/>
<path d="M1247 829 L1254 775 L1280 775 L1286 829 Q1267 836 1247 829Z" fill="url(#studG)"/>
<!-- knob -->
<path d="M1007.5 382.5 Q1014 370 1027.5 367.5 L1057.5 366 L1082.5 367.5 Q1096 370 1100 377.5 Q1104 382 1105 387.5 L1110 425 L1115 462.5 L1120 485 L1126 500 L1126 602 L1117.5 625 L1107.5 700 Q1105 714 1100 720 Q1096 725 1090 725 L1030 725 Q1023 724 1020 717.5 L1012.5 675 L1007.5 625 Q1002 610 995 600 Q989 588 988.5 575 L990 537.5 Q992 522 995 512.5 L997.5 490 L1000 450 L1005 400Z" fill="url(#knobG)"/>
<path d="M1012 520 L1091 520 L1091 565 L1012 565Z" fill="#4a4a4a" opacity="0.35" filter="url(#blur5)"/>
<path d="M1090 387 Q1097 380 1101 390 L1113 480 Q1112 492 1106 490 Q1100 486 1098 470Z" fill="#080808"/>
<path d="M1107 610 Q1116 605 1119 614 L1110 700 Q1106 708 1103 700Z" fill="#080808"/>
<path d="M1010 420 Q1013 500 1008 537 Q1004 575 1012 600 Q1020 625 1022 717" stroke="#8a8a8a" stroke-width="1.1" fill="none" opacity="0.8"/>
<g stroke="#5e5e5e" stroke-width="1.2" opacity="0.9"><path d="M1011 424 H1088 M1011 431 H1089 M1011 438 H1090 M1011 445 H1091 M1011 452 H1092"/><path d="M1020 667 H1097 M1020 674 H1096 M1021 681 H1095 M1021 688 H1094 M1021 695 H1094"/></g>
<g stroke="#0a0a0a" stroke-width="1.4"><path d="M1011 427.5 H1088 M1011 434.5 H1089 M1011 441.5 H1090 M1011 448.5 H1091"/><path d="M1020 670.5 H1097 M1020 677.5 H1096 M1021 684.5 H1095 M1021 691.5 H1094"/></g>
<!-- shaft -->
<path d="M1098 505 L1173 505 L1173 600 L1098 600Z" fill="url(#shaftG)"/>
<ellipse cx="1170.5" cy="565" rx="4" ry="27" fill="#9a9a9a"/><ellipse cx="1172" cy="565" rx="3" ry="25" fill="#cfcfcf"/>
<!-- column -->
<path d="M1172.5 445 L1172.5 772 Q1173 790 1182 800 Q1196 816 1216 821 Q1232 822 1240 810 L1244 790 L1288 790 L1294 806 Q1306 816 1322 816 Q1342 815 1354 804 Q1366 790 1367 755 L1367 320 L1290 440Z" fill="url(#colG)"/>
<!-- slot interior -->
<path d="M1232 818 L1230 768 Q1230 742 1244 730 Q1250 722 1256 722 Q1264 722 1270 730 Q1284 742 1284 768 L1297 818Z" fill="#0b0b0b"/>
<ellipse cx="1255" cy="565" rx="7" ry="22" fill="#151515"/><ellipse cx="1257" cy="565" rx="4" ry="17" fill="#5a5a5a"/><ellipse cx="1258" cy="565" rx="2" ry="12" fill="#222"/>
<path d="M1253 676 L1262 676 Q1262 722 1272 738 Q1282 750 1281 764 Q1279 780 1268 784 L1268 830 L1245 830 L1245 784 Q1230 780 1229 764 Q1229 750 1240 740 Q1252 722 1253 676Z" fill="url(#ballG)"/>
<path d="M1233 772 Q1255 790 1279 772 Q1276 783 1268 785 L1245 785 Q1236 783 1233 772Z" fill="#2a2a2a" opacity="0.8"/>
<path d="M1245 786 L1268 786 L1268 812 L1245 812Z" fill="url(#studG)"/>
<!-- column side holes -->
<ellipse cx="1355" cy="485.5" rx="6" ry="26" fill="#0e0e0e"/><ellipse cx="1356.5" cy="487" rx="3.5" ry="20" fill="#2a2a2a"/>
<ellipse cx="1356" cy="573.5" rx="10.5" ry="48.5" fill="#2a2a2a"/><ellipse cx="1356.5" cy="573.5" rx="9.5" ry="47" fill="#dadada"/>
<ellipse cx="1355" cy="654.5" rx="6" ry="26" fill="#0e0e0e"/><ellipse cx="1356.5" cy="656" rx="3.5" ry="20" fill="#2a2a2a"/>
<!-- disc -->
<path d="M1104 329 Q1106 380 1131 415.5 Q1158 448 1210 462 Q1268 472 1300 452 Q1340 425 1365 331 Q1366 250 1326 225 Q1280 204 1237 206 Q1160 210 1120 270 Q1104 300 1104 329Z" fill="#1d1d1d"/>
<ellipse cx="1234" cy="324.5" rx="130" ry="118" fill="#262626"/>
<path d="M1108 352 A130 118 0 0 0 1342 390" stroke="#707070" stroke-width="1.6" fill="none" opacity="0.85"/>
<ellipse cx="1234" cy="323.5" rx="124" ry="112" fill="url(#knurl)"/>
<path d="M1296 428 L1305 423 L1311 444 L1301 449Z M1315 409 L1325 403 L1331 424 L1320 430Z M1333 388 L1343 381 L1349 400 L1338 407Z" fill="#4a4a4a"/>
<path d="M1305 423 L1309 421 L1315 442 L1311 444Z M1325 403 L1329 401 L1335 421 L1331 424Z M1343 381 L1347 379 L1352 397 L1349 400Z" fill="#141414"/>
<ellipse cx="1228" cy="323.5" rx="46" ry="46.5" fill="#0d0d0d"/>
<path d="M1196 322 L1232 354 A27 18 -30 0 0 1266 338 L1246 300Z" fill="url(#threadG)"/>
<path d="M1205 336 Q1230 350 1256 322 M1213 343 Q1238 357 1262 330 M1221 349 Q1244 362 1265 338" stroke="#7a7a7a" stroke-width="1.6" fill="none"/>
<ellipse cx="1218.5" cy="305" rx="29.5" ry="26.5" fill="url(#screwTop)" transform="rotate(-25 1218.5 305)"/>
</g>

<!-- prodtext.svg -->
<g transform="translate(963,1248) rotate(5)"><use href="#bolt"/></g>
<g transform="translate(1215,1290) rotate(5)"><use href="#bolt"/></g>
<g fill="#f2f2f2" font-weight="700">
<text transform="matrix(0.989,0.148,-0.604,0.96,1066,1092)" font-size="25" textLength="203" lengthAdjust="spacingAndGlyphs">NEEWER</text>
<text transform="matrix(0.989,0.148,-0.3,0.96,1272,1108)" font-size="16" font-weight="400">®</text>
</g>
<text transform="matrix(0.991,0.13,-0.13,1,1012,1285)" font-size="44.5" fill="#f4f4f4" textLength="151" lengthAdjust="spacingAndGlyphs">CA144</text>

<!-- lines.svg -->
<g fill="none" stroke-width="2.2" stroke-dasharray="7 5.2">
<path d="M745 485 H997" stroke="#1c3a63"/>
<path d="M997 485 H1124" stroke="#ffffff"/>
<path d="M1124 485 H1150 L1163 447" stroke="#1e5a9c"/>
<path d="M1163 447 L1206 321" stroke="#ffffff"/>
<path d="M745 1160 H907" stroke="#1c3a63"/>
<path d="M907 1160 H1121" stroke="#ffffff"/>
</g>
<circle cx="1211" cy="307" r="16" fill="#8ea6d8"/>
<circle cx="1211" cy="307" r="9.6" fill="#0f43a6"/>
<circle cx="1211" cy="307" r="3.6" fill="#fff"/>
<ellipse cx="1117.5" cy="1159.5" rx="13" ry="17" fill="#1238a8"/>
<ellipse cx="1120" cy="1160" rx="7" ry="9" fill="#3d6fdc"/>
<circle cx="1121" cy="1159.5" r="3.6" fill="#fff"/>

<!-- text.svg -->
<g fill="#262626" stroke="#262626" stroke-width="3.4" stroke-linejoin="round" font-size="72">
<text y="142.3"><tspan x="440.7" textLength="145.1" lengthAdjust="spacingAndGlyphs">DUAL</tspan> <tspan x="616.7" textLength="306.6" lengthAdjust="spacingAndGlyphs">MOUNTING</tspan> <tspan x="956.7" textLength="202.6" lengthAdjust="spacingAndGlyphs">POINTS</tspan></text>
</g>
<g fill="#141414" stroke="#141414" stroke-width="1.8" stroke-linejoin="round" font-size="38.2">
<text x="143" y="346.9" textLength="163.6" lengthAdjust="spacingAndGlyphs">1/4″ Screw</text>
<text x="145" y="905.2" textLength="260.2" lengthAdjust="spacingAndGlyphs">1/4″ Screw Holes</text>
</g>
<g fill="#262626" font-size="30.5">
<text x="157.5" y="590.6" textLength="177" lengthAdjust="spacingAndGlyphs">Compatible with</text>
<text x="192" y="620.6" textLength="108" lengthAdjust="spacingAndGlyphs">Vlog Cage</text>
<text x="465" y="590.6" textLength="177" lengthAdjust="spacingAndGlyphs">Compatible with</text>
<text x="503.6" y="620.6" textLength="101.5" lengthAdjust="spacingAndGlyphs">LED Light</text>
<text x="160" y="1192" textLength="176.7" lengthAdjust="spacingAndGlyphs">Compatible with</text>
<text x="172.5" y="1222" textLength="153" lengthAdjust="spacingAndGlyphs">Mini Ball Head</text>
<text x="462" y="1192" textLength="176.7" lengthAdjust="spacingAndGlyphs">Compatible with</text>
<text x="493" y="1222" textLength="114.5" lengthAdjust="spacingAndGlyphs">Magic Arm</text>
<text x="178" y="1435" textLength="176.5" lengthAdjust="spacingAndGlyphs">Compatible with</text>
<text x="168" y="1465" textLength="196.5" lengthAdjust="spacingAndGlyphs">3/8″ to 1/4″ Spigot</text>
<text x="473.2" y="1435" textLength="176.6" lengthAdjust="spacingAndGlyphs">Compatible with</text>
<text x="417" y="1465" textLength="288.7" lengthAdjust="spacingAndGlyphs">3/8″ to 1/4″ Screw Adapter</text>
</g>

</svg>
</body></html>
